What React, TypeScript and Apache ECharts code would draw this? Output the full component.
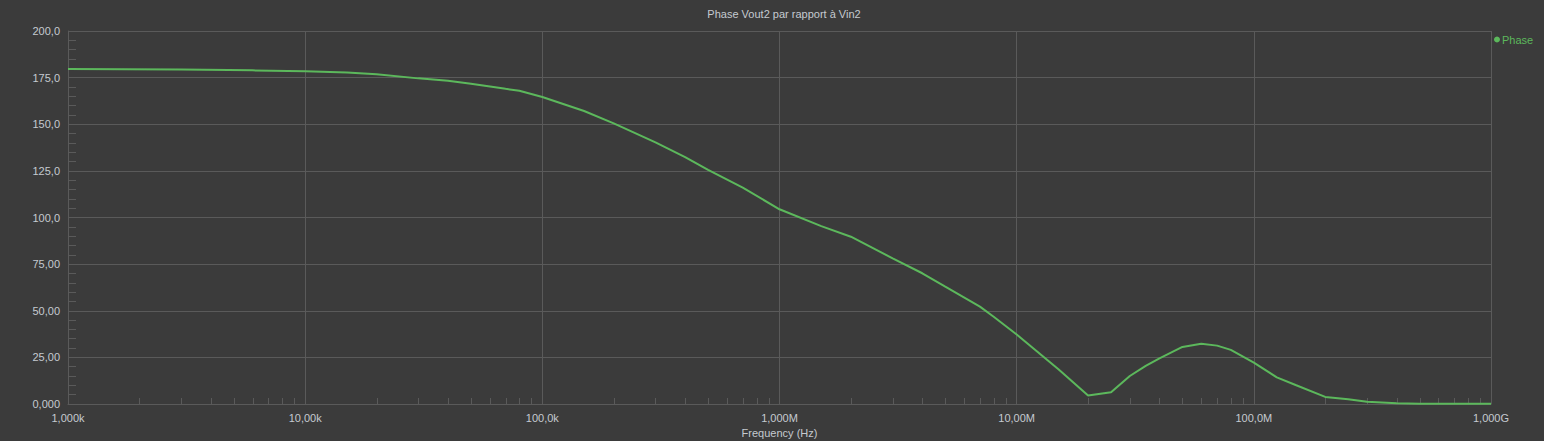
import React, { useEffect, useRef } from "react";
import * as echarts from "echarts";

const freqHz = [
  1e3, 3e3, 6e3, 1e4, 1.5e4, 2e4, 3e4, 4e4, 5e4, 7e4, 8e4, 1e5, 1.5e5, 2e5, 3e5, 4e5, 5e5,
  7e5, 1e6, 1.5e6, 2e6, 3e6, 4e6, 5e6, 7e6, 8e6, 1e7, 1.5e7, 2e7, 2.5e7, 3e7, 3.5e7, 4e7,
  5e7, 6e7, 7e7, 8e7, 1e8, 1.25e8, 1.5e8, 2e8, 2.5e8, 3e8, 4e8, 5e8, 1e9,
];
const phaseDeg = [
  179.6, 179.4, 178.9, 178.4, 177.8, 176.8, 174.6, 173.3, 171.7, 169.0, 168.0, 164.6, 157.1,
  150.5, 140.3, 132.4, 125.5, 116.0, 104.4, 95.4, 89.7, 78.1, 70.1, 62.9, 52.2, 46.8, 37.3,
  18.6, 4.5, 6.3, 15.0, 20.4, 24.5, 30.6, 32.3, 31.3, 29.0, 22.2, 14.3, 10.2, 3.8, 2.5, 1.2,
  0.35, 0.2, 0.1,
];
const xTickLabels = ["1,000k", "10,00k", "100,0k", "1,000M", "10,00M", "100,0M", "1,000G"];
const yTickLabels = ["0,000", "25,00", "50,00", "75,00", "100,0", "125,0", "150,0", "175,0", "200,0"];
const decades = [1e3, 1e4, 1e5, 1e6, 1e7, 1e8];
const minorMultipliers = [2, 3, 4, 5, 6, 7, 8, 9];

const BG = "#3b3b3b";
const GRID = "#5a5a5a";
const GREEN = "#5cb85c";
const TEXT = "#c5cad0";
const FONT = "'Liberation Sans', Arial, sans-serif";

export default function App() {
  const ref = useRef<HTMLDivElement>(null);
  useEffect(() => {
    if (!ref.current) return;
    const chart = echarts.init(ref.current, null, { renderer: "svg" });
    const minorTicks: number[][] = [];
    decades.forEach((d) => minorMultipliers.forEach((m) => minorTicks.push([d * m, 0])));
    chart.setOption({
      animation: false,
      backgroundColor: BG,
      textStyle: { fontFamily: FONT },
      title: {
        text: "Phase Vout2 par rapport à Vin2",
        left: 779,
        textAlign: "center",
        top: 3,
        textStyle: { color: TEXT, fontSize: 11, fontWeight: "normal", fontFamily: FONT },
      },
      legend: {
        data: ["Phase"],
        left: 1494,
        top: 34,
        icon: "circle",
        itemWidth: 6,
        itemHeight: 6,
        itemGap: 4,
        padding: 0,
        textStyle: { color: GREEN, fontSize: 11, fontFamily: FONT, padding: [0, 0, 0, -3] },
      },
      grid: { left: 68, right: 53, top: 31, bottom: 37, containLabel: false, outerBoundsMode: "none" },
      xAxis: {
        type: "log",
        logBase: 10,
        min: 1e3,
        max: 1e9,
        splitNumber: 6,
        name: "Frequency (Hz)",
        nameLocation: "middle",
        nameGap: 22,
        nameTextStyle: { color: TEXT, fontSize: 11, fontFamily: FONT },
        axisLine: { show: true, lineStyle: { color: GRID, width: 1 } },
        axisTick: { show: false },
        splitLine: { show: true, lineStyle: { color: GRID, width: 1 } },
        axisLabel: {
          color: TEXT,
          fontSize: 11,
          fontFamily: FONT,
          margin: 8,
          formatter: (v: number) => xTickLabels[Math.round(Math.log10(v)) - 3] ?? "",
        },
      },
      yAxis: {
        type: "value",
        min: 0,
        max: 200,
        interval: 25,
        axisLine: { show: true, lineStyle: { color: GRID, width: 1 } },
        axisTick: { show: true, inside: true, length: 8, lineStyle: { color: GRID } },
        minorTick: { show: true, splitNumber: 5, length: 8, lineStyle: { color: GRID, width: 1 } },
        splitLine: { show: true, lineStyle: { color: GRID, width: 1 } },
        axisLabel: {
          color: TEXT,
          fontSize: 11,
          fontFamily: FONT,
          margin: 8,
          formatter: (v: number) => yTickLabels[Math.round(v / 25)] ?? "",
        },
      },
      series: [
        {
          type: "custom",
          name: "minorX",
          silent: true,
          clip: false,
          z: 1,
          data: minorTicks,
          renderItem: (_p: any, api: any) => {
            const pt = api.coord([api.value(0), 0]);
            const x = Math.round(pt[0]) + 0.5;
            return {
              type: "line",
              shape: { x1: x, y1: pt[1], x2: x, y2: pt[1] - 6 },
              style: { stroke: GRID, lineWidth: 1 },
            };
          },
        },
        {
          type: "line",
          name: "Phase",
          data: freqHz.map((f, i) => [f, phaseDeg[i]]),
          showSymbol: false,
          symbol: "circle",
          color: GREEN,
          lineStyle: { color: GREEN, width: 2 },
          z: 3,
        },
      ],
    });
    return () => chart.dispose();
  }, []);
  return <div ref={ref} style={{ position: "fixed", left: 0, top: 0, width: 1544, height: 441 }} />;
}
